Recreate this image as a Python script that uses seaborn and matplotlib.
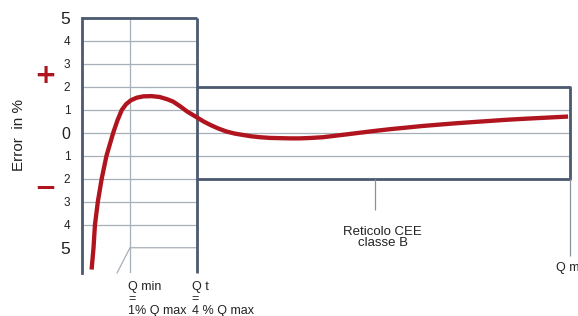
import matplotlib.pyplot as plt
import seaborn as sns
import pandas as pd

# curva d'errore del contatore (x in unità arbitrarie: 0 = asse, 1 = Q min, 2.4 = Q t)
x_curve = [0.20, 0.24, 0.27, 0.33, 0.41, 0.51, 0.58, 0.65, 0.74, 0.83, 0.92,
           1.02, 1.14, 1.28, 1.45, 1.62, 1.78, 1.90, 2.05, 2.19, 2.39, 2.53,
           2.67, 2.84, 3.01, 3.18, 3.35, 3.53, 3.71, 3.92, 4.13, 4.33, 4.54,
           4.78, 5.02, 5.38, 5.73, 6.08, 6.42, 6.76, 7.10, 7.45, 7.81, 8.15,
           8.50, 8.85, 9.19, 9.66, 10.13]
err_curve = [-5.95, -5.0, -4.0, -3.0, -2.0, -1.0, -0.5, 0.0, 0.55, 1.0, 1.25,
             1.42, 1.53, 1.59, 1.60, 1.56, 1.46, 1.36, 1.15, 0.93, 0.68, 0.50,
             0.35, 0.19, 0.06, -0.03, -0.09, -0.15, -0.19, -0.22, -0.23, -0.24,
             -0.24, -0.22, -0.19, -0.10, -0.01, 0.08, 0.16, 0.23, 0.30, 0.36,
             0.42, 0.47, 0.52, 0.57, 0.61, 0.66, 0.71]

y_ticks = [5, 4, 3, 2, 1, 0, -1, -2, -3, -4, -5]
q_min = 1.0
q_t = 2.4
q_max = 10.17
cee_limit = 2      # reticolo CEE classe B: +-2 %
ymin, ymax = -6.1, 5

red = '#b0141e'
dark = '#4b5a70'
grey = '#a7afb8'

df = pd.DataFrame({'Q': x_curve, 'errore': err_curve})

sns.set_style("white")
plt.rcParams['font.family'] = ['Liberation Sans', 'DejaVu Sans']

fig = plt.figure(figsize=(5.78, 3.16), dpi=100)
ax = fig.add_axes([82 / 578, 1 - 273 / 316, 488 / 578, 255 / 316])
ax.set_xlim(0, q_max)
ax.set_ylim(ymin, ymax)

# griglia sottile
ax.hlines([4, 3, 2, -2, -3, -4], 0, q_t, color=grey, lw=0.9)
ax.hlines([1, 0, -1], 0, q_max, color=grey, lw=0.9)
ax.vlines(q_min, ymin, ymax, color=grey, lw=0.9)
ax.plot([0.73, q_min, q_t], [ymin, -5, -5], color=grey, lw=0.9, clip_on=False)

# riquadri spessi
ax.hlines(ymax, 0, q_t, color=dark, lw=2, clip_on=False)
ax.vlines(q_t, ymin, ymax, color=dark, lw=2, clip_on=False)
ax.plot([q_t, q_max, q_max, q_t], [cee_limit, cee_limit, -cee_limit, -cee_limit],
        color=dark, lw=2, clip_on=False)

# linee di richiamo
ax.vlines(6.1, -3.35, -cee_limit, color='#8a939c', lw=0.9, clip_on=False)
ax.vlines(q_max, -5.35, -cee_limit, color='#8a939c', lw=0.9, clip_on=False)

# curva
sns.lineplot(data=df, x='Q', y='errore', ax=ax, color=red, lw=3.1, sort=False,
             solid_capstyle='butt')

for s in ['top', 'right', 'bottom']:
    ax.spines[s].set_visible(False)
ax.spines['left'].set_color(dark)
ax.spines['left'].set_linewidth(2)

ax.set_xticks([])
ax.set_yticks(y_ticks)
ax.set_yticklabels([str(abs(v)) for v in y_ticks])
ax.tick_params(axis='y', length=6.5, width=0.9, color=grey, pad=2,
               labelsize=8.5, labelcolor='#222222')
for lab, v in zip(ax.get_yticklabels(), y_ticks):
    if v in (5, -5):
        lab.set_fontsize(12.5)
    elif v == 0:
        lab.set_fontsize(11.5)
ax.yaxis.get_major_ticks()[0].tick1line.set_visible(False)
ax.set_xlabel('')
ax.set_ylabel('')

# etichette
txt = dict(fontsize=9, color='#222222', linespacing=1.0)
ax.text(0.96, -6.45, 'Q min\n=\n1% Q max', ha='left', va='top', **txt)
ax.text(2.29, -6.45, 'Q t\n=\n4 % Q max', ha='left', va='top', **txt)
ax.text(6.27, -4.05, 'Reticolo CEE\nclasse B', ha='center', va='top',
        multialignment='center', fontsize=9.5, color='#222222', linespacing=0.95)
ax.text(9.88, -5.87, 'Q max', ha='left', va='center', **txt)

fig.text(19 / 578, 1 - 135 / 316, 'Error  in %', rotation=90, ha='center',
         va='center', fontsize=11, color='#222222')
fig.text(45 / 578, 1 - 76 / 316, '+', ha='center', va='center', fontsize=19,
         fontweight='bold', color=red, family='DejaVu Sans')
fig.text(45 / 578, 1 - 189 / 316, '\u2212', ha='center', va='center', fontsize=19,
         fontweight='bold', color=red, family='DejaVu Sans')

plt.savefig('out.png', dpi=100)
